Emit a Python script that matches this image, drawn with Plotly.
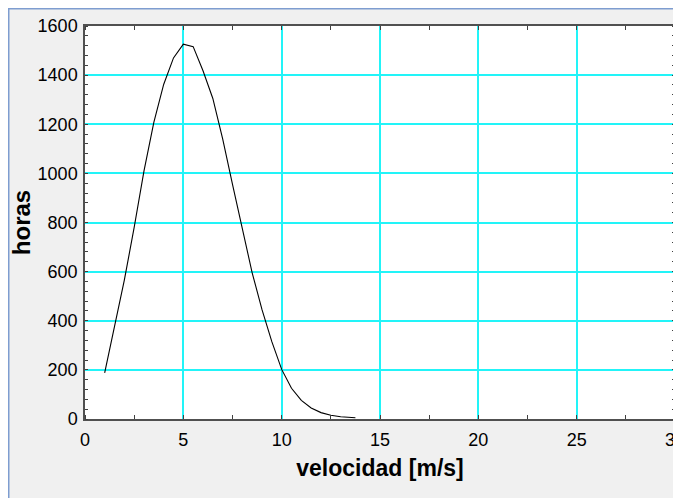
import plotly.graph_objects as go

velocidad = [1.0, 1.5, 2.0, 2.5, 3.0, 3.5, 4.0, 4.5, 5.0, 5.5, 6.0, 6.5, 7.0,
             7.5, 8.0, 8.5, 9.0, 9.5, 10.0, 10.5, 11.0, 11.5, 12.0, 12.5,
             13.0, 13.5, 13.75]
horas = [188, 372, 565, 780, 1010, 1208, 1362, 1470, 1526, 1516, 1418, 1305,
         1140, 955, 772, 595, 445, 315, 202, 125, 76, 45, 26, 15, 9, 6, 5]

x_ticks = [0, 5, 10, 15, 20, 25, 30]
y_ticks = [0, 200, 400, 600, 800, 1000, 1200, 1400, 1600]

FONT = "Liberation Sans, Arial, sans-serif"

fig = go.Figure()
fig.add_trace(go.Scatter(x=velocidad, y=horas, mode="lines",
                         line=dict(color="black", width=1.1),
                         showlegend=False, hoverinfo="skip"))

axis_common = dict(
    showline=True, linecolor="#505050", linewidth=1.5, mirror="allticks",
    showgrid=True, gridcolor="#22F4F8", gridwidth=1.5,
    ticks="", zeroline=False, automargin=False, ticklabeloverflow="allow",
    tickfont=dict(family=FONT, size=18, color="black"),
)

fig.update_xaxes(
    range=[0, 30], tickmode="array", tickvals=x_ticks,
    ticktext=[str(v) for v in x_ticks], ticklabelstandoff=4,
    minor=dict(dtick=2.5, tick0=0, ticks="inside", ticklen=4,
               tickcolor="#404040", tickwidth=1, showgrid=False),
    title=dict(text="<b>velocidad [m/s]</b>",
               font=dict(family=FONT, size=23, color="black"), standoff=11),
    **axis_common)
fig.update_yaxes(
    range=[0, 1600], tickmode="array", tickvals=y_ticks,
    ticktext=[str(v) for v in y_ticks], ticklabelstandoff=2,
    minor=dict(dtick=40, tick0=0, ticks="inside", ticklen=3,
               tickcolor="#404040", tickwidth=1, showgrid=False),
    title=dict(text="<b>horas</b>",
               font=dict(family=FONT, size=24, color="black"), standoff=10),
    **axis_common)

# The page has an 8px body margin; the figure starts at (8, 8) in the window.
W, H = 673, 490
L, T = 77, 18            # plot area left/top at window x=85, y=26
R = W - 667              # plot area right at window x=675
B = H - 411              # plot area bottom at window y=419
pw, ph = W - L - R, H - T - B
fx = lambda px: (px - L) / pw
fy = lambda py: (H - B - py) / ph
shapes = [
    dict(type="line", xref="paper", yref="paper", x0=fx(0), x1=fx(W + 5),
         y0=fy(0.5), y1=fy(0.5), line=dict(color="#7E9DD0", width=2), layer="above"),
    dict(type="line", xref="paper", yref="paper", x0=fx(0.5), x1=fx(0.5),
         y0=fy(0), y1=fy(H + 5), line=dict(color="#7E9DD0", width=2), layer="above"),
]

fig.update_layout(
    width=W, height=H,
    margin=dict(l=L, r=R, t=T, b=B, autoexpand=False),
    paper_bgcolor="#F0F0F0", plot_bgcolor="white",
    font=dict(family=FONT, color="black"),
    shapes=shapes,
)

fig.write_html("out.html")
